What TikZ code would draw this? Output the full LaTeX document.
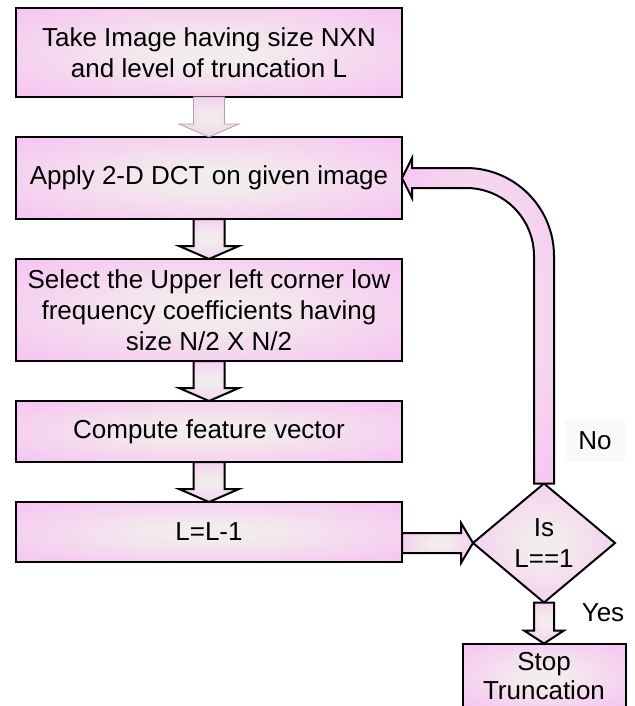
\documentclass[tikz,border=0pt]{standalone}
\usepackage{fontspec}
\setmainfont{Liberation Sans}
\usetikzlibrary{positioning,shapes.geometric,calc}
\definecolor{boxpink}{RGB}{248,186,245}
\definecolor{boxmid}{RGB}{243,236,236}
\pgfdeclareradialshading{boxshade}{\pgfpoint{0bp}{0bp}}{color(0bp)=(boxmid); color(6bp)=(boxmid); color(42bp)=(boxpink); color(50bp)=(boxpink)}
% vertical block arrow: [style]{from}{to}{half shaft}{half head}
\newcommand{\downblock}[5][]{%
  \draw[blockarrow,#1] let \p1=(#2.south), \p2=(#3.north) in
    (\x1-#4,\y1) -- (\x1+#4,\y1) -- (\x1+#4,\y2+13pt) -- (\x1+#5,\y2+13pt)
    -- (\x1,\y2) -- (\x1-#5,\y2+13pt) -- (\x1-#4,\y2+13pt) -- cycle;}

\begin{document}
\begin{tikzpicture}[x=1pt, y=1pt, node distance=40pt,
  box/.style={draw, line width=2pt, shading=boxshade, rectangle, minimum width=386pt, align=center, inner sep=4pt, outer sep=0pt, font=\fontsize{26}{31}\selectfont},
  blockarrow/.style={draw, line width=2pt, line join=miter, shading=boxshade},
  answer/.style={font=\fontsize{26}{31}\selectfont, inner sep=2pt}]
\useasboundingbox (0,0) rectangle (634,-706);
\node[box, minimum height=89pt] (take) at (209,-52.5) {Take Image having size NXN\\and level of truncation L};
\node[box, minimum height=82pt, below=of take] (apply) {Apply 2-D DCT on given image};
\node[box, minimum height=102pt, below=of apply] (select) {Select the Upper left corner low\\frequency coefficients having\\size N/2 X N/2};
\node[box, minimum height=61pt, below=of select] (feature) {Compute feature vector};
\node[box, minimum height=60pt, below=of feature] (lvl) {L=L-1};
\node[box, shape=diamond, minimum width=142pt, minimum height=119pt, inner sep=0pt, right=71pt of lvl, yshift=-11pt] (check) {Is\\L==1};
\node[box, minimum width=163pt, minimum height=65pt, below=41pt of check, font=\fontsize{26}{29}\selectfont] (stop) {Stop\\Truncation};
\node[answer, fill=gray!5, minimum width=60pt, minimum height=42pt] (no) at (595,-441) {No};
\node[answer] (yes) at (603,-613) {Yes};
% arrows
\downblock[draw=gray!70, line width=0.8pt]{take}{apply}{15.5pt}{30pt}
\downblock{apply}{select}{15.5pt}{30pt}
\downblock{select}{feature}{15.5pt}{30pt}
\downblock{feature}{lvl}{15.5pt}{30pt}
\downblock{check}{stop}{10pt}{20pt}
\draw[blockarrow] let \p1=(lvl.east), \p2=(check.west) in
  (\x1,\y2+10pt) -- (\x2-12pt,\y2+10pt) -- (\x2-12pt,\y2+20pt) -- (\x2,\y2)
  -- (\x2-12pt,\y2-20pt) -- (\x2-12pt,\y2-10pt) -- (\x1,\y2-10pt) -- cycle;
\draw[blockarrow] let \p1=(check.north), \p2=(apply.east) in
  (\x1+10pt,\y1) -- (\x1+10pt,\y2-78pt) arc[start angle=0, end angle=90, radius=88pt]
  -- (\x2+10pt,\y2+10pt) -- (\x2+10pt,\y2+20pt) -- (\x2,\y2) -- (\x2+10pt,\y2-20pt)
  -- (\x2+10pt,\y2-10pt) -- (\x1-78pt,\y2-10pt) arc[start angle=90, end angle=0, radius=68pt]
  -- (\x1-10pt,\y1) -- cycle;
\end{tikzpicture}
\end{document}
